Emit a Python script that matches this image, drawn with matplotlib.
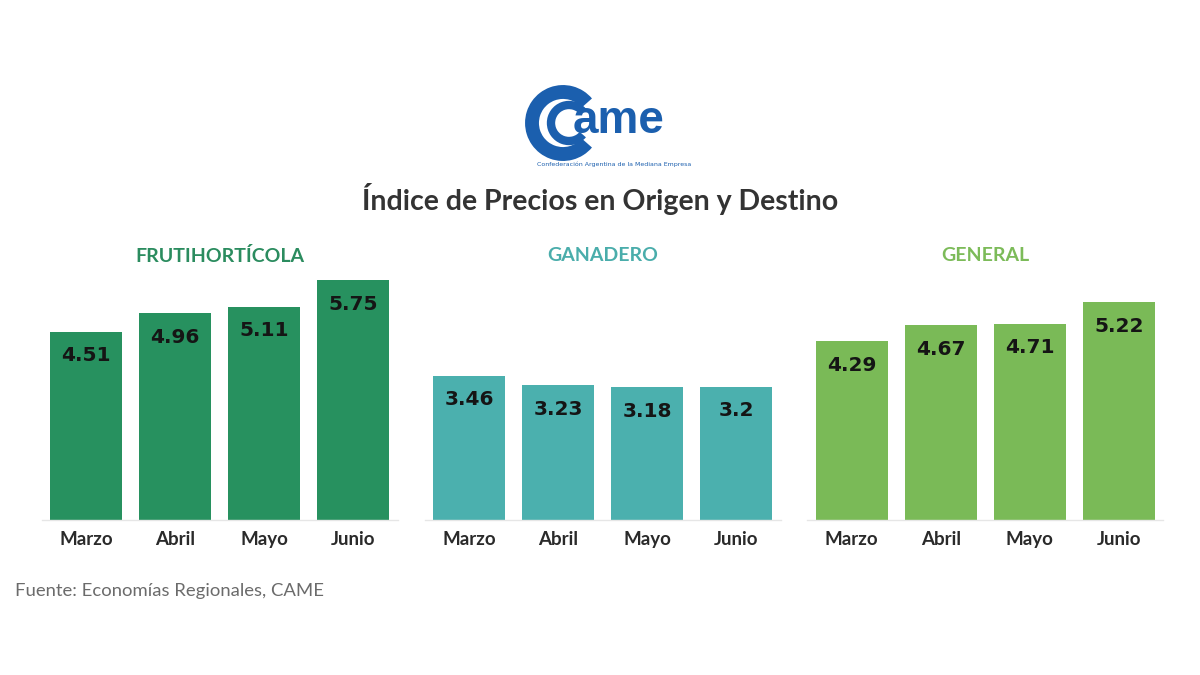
import matplotlib.pyplot as plt
from matplotlib.patches import Arc

# data
months = ["Marzo", "Abril", "Mayo", "Junio"]
panel_names = ["FRUTIHORTÍCOLA", "GANADERO", "GENERAL"]
frutihorticola = [4.51, 4.96, 5.11, 5.75]
ganadero = [3.46, 3.23, 3.18, 3.2]
general = [4.29, 4.67, 4.71, 5.22]
value_labels = [["4.51", "4.96", "5.11", "5.75"],
                ["3.46", "3.23", "3.18", "3.2"],
                ["4.29", "4.67", "4.71", "5.22"]]

bar_colors = ["#27915f", "#4bb0ae", "#7aba57"]
title_colors = ["#2b8c5f", "#4aadab", "#7cbb59"]

W, H = 1200, 675
fig = plt.figure(figsize=(12, 6.75), dpi=100)
fig.patch.set_facecolor("white")

def px(x, y):
    return x / W, 1 - y / H

# panels: left edge in pixels
lefts = [41.75, 424.75, 807.25]
series = [frutihorticola, ganadero, general]
base_y = 520
ymax = 6.5
scale = 41.7
top_y = base_y - ymax * scale

for i, (left, vals) in enumerate(zip(lefts, series)):
    ax = fig.add_axes([left / W, (H - base_y) / H, 356 / W, (base_y - top_y) / H])
    x = range(len(months))
    ax.bar(x, vals, width=0.81, color=bar_colors[i])
    ax.set_xlim(-0.5, 3.5)
    ax.set_ylim(0, ymax)
    for xi, v, lab in zip(x, vals, value_labels[i]):
        ax.annotate(lab, (xi, v), xytext=(0, -24), textcoords="offset pixels",
                    ha="center", va="center", fontsize=14.5, fontweight="bold",
                    color="#151515", family="DejaVu Sans")
    ax.set_xticks(list(x))
    ax.set_xticklabels(months, fontsize=13.5, fontweight="bold", color="#2a2a2a",
                       family="Lato")
    ax.tick_params(axis="x", length=0, pad=8)
    ax.set_yticks([])
    for s in ["top", "right", "left"]:
        ax.spines[s].set_visible(False)
    ax.spines["bottom"].set_color("#e6e6e6")
    ax.spines["bottom"].set_linewidth(1)
    ax.set_facecolor("none")
    cx = left + 178
    fig.text(*px(cx, 256), panel_names[i], ha="center", va="center",
             fontsize=14, fontweight="bold", color=title_colors[i], family="Lato")

# title
fig.text(*px(600, 199), "Índice de Precios en Origen y Destino", ha="center",
         va="center", fontsize=20.5, fontweight="bold", color="#333333", family="Lato")

# logo
logo_blue = "#1b5fae"
lax = fig.add_axes([0, 0, 1, 1])
lax.set_xlim(0, W)
lax.set_ylim(H, 0)
lax.axis("off")
lax.add_patch(Arc((563, 123), 62, 62, theta1=40, theta2=320, lw=10, color=logo_blue))
lax.add_patch(Arc((569, 123), 36, 36, theta1=40, theta2=320, lw=6, color=logo_blue))
lax.text(619, 121, "ame", ha="center", va="center", fontsize=33, fontweight="bold",
         color=logo_blue, family="Liberation Sans")
lax.text(614, 164, "Confederación Argentina de la Mediana Empresa", ha="center",
         va="center", fontsize=4.5, color=logo_blue, family="DejaVu Sans")

# source
fig.text(*px(15, 591), "Fuente: Economías Regionales, CAME", ha="left", va="center",
         fontsize=13.3, color="#6b6b6b", family="Lato")

fig.savefig("out.png", dpi=100)
